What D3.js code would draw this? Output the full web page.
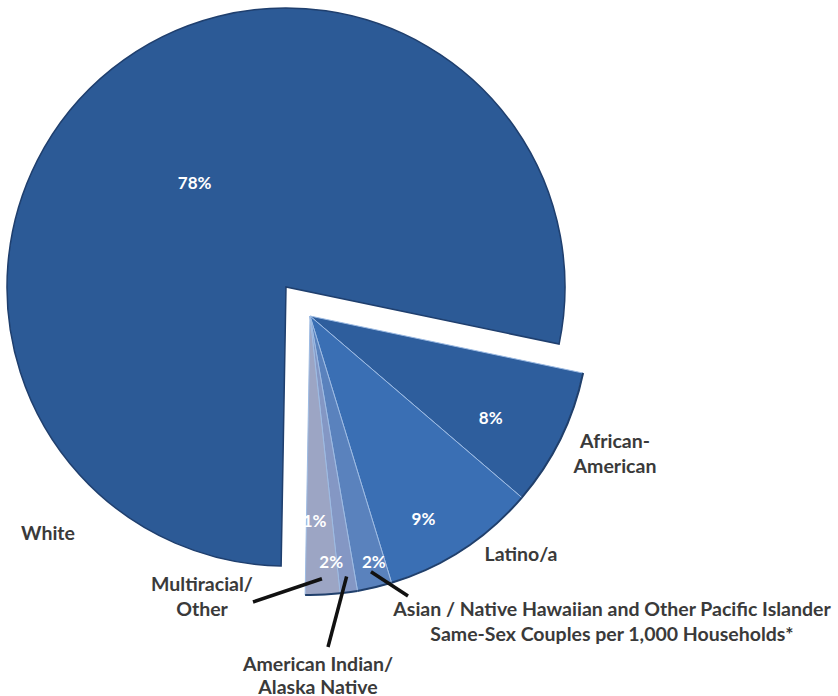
<!DOCTYPE html>
<html>
<head>
<meta charset="utf-8">
<script src="https://cdn.jsdelivr.net/npm/d3@7"></script>
<style>
  body { margin: 0; background: #fff; }
  .catLabel { font-family: Lato, "Open Sans", sans-serif; font-weight: bold; font-size: 19.5px; fill: #3a3a3a; }
  .pctLabel { font-family: Lato, "Open Sans", sans-serif; font-weight: bold; font-size: 17px; fill: #fff; }
</style>
</head>
<body>
<div id="chart"></div>
<script>
// slices, clockwise starting with White
var categories = ["White", "African-American", "Latino/a",
  "Asian / Native Hawaiian and Other Pacific Islander", "American Indian/Alaska Native", "Multiracial/Other"];
var shares = [78, 8, 9, 2, 1, 2];
var pctLabels = ["78%", "8%", "9%", "2%", "1%", "2%"];
var colors = ["#2c5a96", "#2e5e9d", "#3a6fb4", "#5a82bd", "#8497c4", "#9ca5c4"];

var svgWidth = 838;
var svgHeight = 696;

var svg = d3.select("#chart")
  .append("svg")
  .attr("width", svgWidth)
  .attr("height", svgHeight);

var radius = 279;
var center = [286, 287];
// all non-White slices are pulled out together
var explode = [24, 29];

var data = categories.map(function(c, i) {
  return { name: c, value: shares[i], pct: pctLabels[i], color: colors[i], idx: i };
});

var pie = d3.pie()
  .sort(null)
  .value(d => d.value)
  .startAngle(-179 * Math.PI / 180)
  .endAngle(181 * Math.PI / 180);

var arcs = pie(data);

var arc = d3.arc().innerRadius(0).outerRadius(radius);

var pieGroup = svg.append("g")
  .attr("transform", `translate(${center[0]}, ${center[1]})`);

// White slice
pieGroup.append("path")
  .datum(arcs[0])
  .attr("d", arc)
  .attr("fill", d => d.data.color)
  .attr("stroke", "#1f3f6e")
  .attr("stroke-width", 1.5);

var smallGroup = pieGroup.append("g")
  .attr("transform", `translate(${explode[0]}, ${explode[1]})`);

smallGroup.selectAll("path")
  .data(arcs.slice(1))
  .enter()
  .append("path")
  .attr("d", arc)
  .attr("fill", d => d.data.color)
  .attr("stroke", "#9dbbe3")
  .attr("stroke-width", 1);

// outer rim shadow on the pulled slices
smallGroup.selectAll(".rim")
  .data(arcs.slice(1))
  .enter()
  .append("path")
  .attr("d", d3.arc().innerRadius(radius - 1).outerRadius(radius + 1))
  .attr("fill", "#203f6b");

// percent labels: radius along bisector, then small nudges
var pctRadius = [140, 207, 231, 254, 205, 247];
var pctNudge = [[-4, 5], [-5, 10], [-13, 9], [5, -2], [-24, 1], [10, -1]];

arcs.forEach(function(a, i) {
  var c = d3.arc().innerRadius(pctRadius[i]).outerRadius(pctRadius[i]).centroid(a);
  var g = i === 0 ? pieGroup : smallGroup;
  g.append("text")
    .attr("class", "pctLabel")
    .attr("x", c[0] + pctNudge[i][0])
    .attr("y", c[1] + pctNudge[i][1])
    .attr("text-anchor", "middle")
    .attr("dominant-baseline", "central")
    .text(a.data.pct);
});

// category labels
var catLines = [
  ["White"],
  ["African-", "American"],
  ["Latino/a"],
  ["Asian / Native Hawaiian and Other Pacific Islander", "Same-Sex Couples per 1,000 Households*"],
  ["American Indian/", "Alaska Native"],
  ["Multiracial/", "Other"]
];
var catPos = [[48, 532], [615, 440], [521, 553], [612, 608], [318, 663], [202, 583]];
var lineGap = [25, 25, 25, 25, 23, 25];

catLines.forEach(function(lines, i) {
  var t = svg.append("text")
    .attr("class", "catLabel")
    .attr("text-anchor", "middle")
    .attr("x", catPos[i][0])
    .attr("y", catPos[i][1])
    .attr("dominant-baseline", "central");
  lines.forEach(function(l, j) {
    t.append("tspan")
      .attr("x", catPos[i][0])
      .attr("dy", j === 0 ? 0 : lineGap[i])
      .text(l);
  });
});

// leader lines for the thin slices
var leaderEnd = { 3: [408, 596], 4: [328, 647], 5: [253, 602] };
var leaderR = 263;

Object.keys(leaderEnd).forEach(function(k) {
  var a = arcs[+k];
  var p = d3.arc().innerRadius(leaderR).outerRadius(leaderR).centroid(a);
  svg.append("line")
    .attr("x1", center[0] + explode[0] + p[0])
    .attr("y1", center[1] + explode[1] + p[1])
    .attr("x2", leaderEnd[k][0])
    .attr("y2", leaderEnd[k][1])
    .attr("stroke", "#111")
    .attr("stroke-width", 3.5);
});
</script>
</body>
</html>
